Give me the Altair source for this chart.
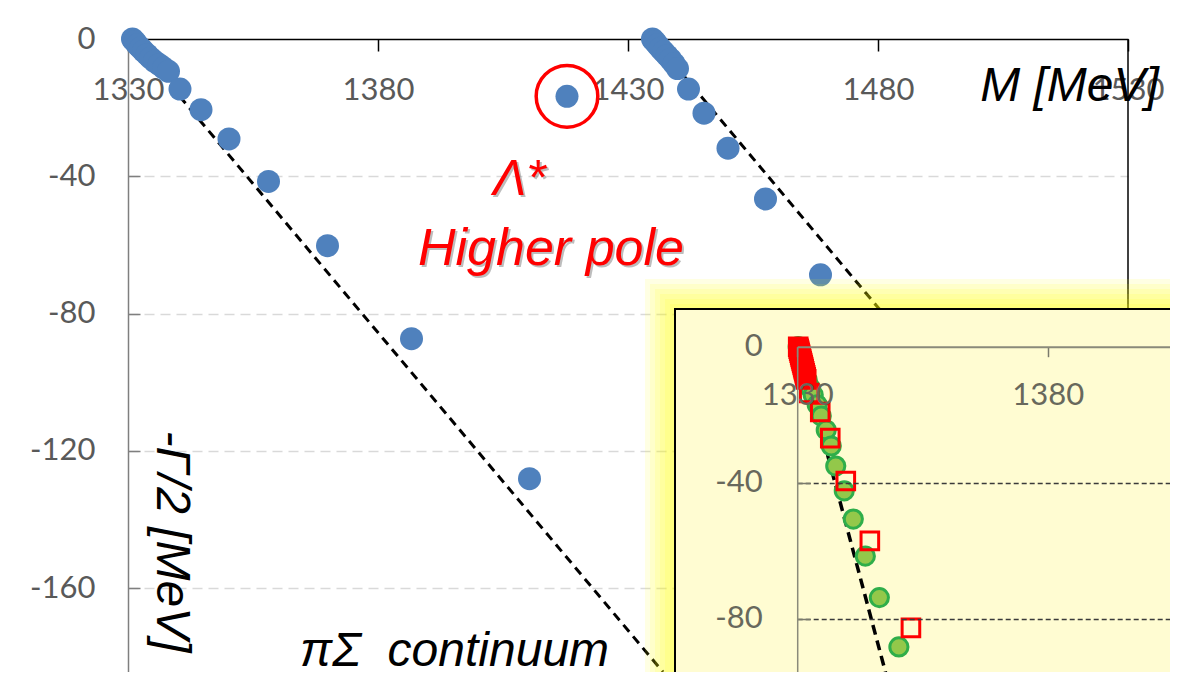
import altair as alt
import pandas as pd

# ---------------- data ----------------
# main panel: pole trajectories, M [MeV] vs -Gamma/2 [MeV]
lower_m = [1330.9, 1331.4, 1331.9, 1332.5, 1333.1, 1333.8, 1334.5, 1335.3, 1336.2,
           1337.1, 1338.1, 1340.4, 1344.6, 1350.2, 1358.1, 1369.9, 1386.7, 1410.3]
lower_g = [0.0, -0.8, -1.7, -2.6, -3.5, -4.5, -5.5, -6.5, -7.4,
           -8.4, -9.4, -14.6, -20.6, -29.1, -41.5, -60.2, -87.3, -128.1]
upper_m = [1434.9, 1435.4, 1435.9, 1436.5, 1437.1, 1437.8, 1438.5, 1439.2, 1439.9,
           1442.1, 1445.2, 1450.0, 1457.5, 1468.5]
upper_g = [0.0, -0.8, -1.7, -2.7, -3.7, -4.8, -5.9, -7.2, -8.6,
           -14.6, -21.6, -31.8, -46.6, -68.7]
lam_m = [1417.8]
lam_g = [-16.7]
cont1_m = [1330.7, 1437.0]
cont1_g = [0.0, -184.4]
cont2_m = [1435.0, 1490.0]
cont2_g = [0.0, -95.6]

# inset panel
inset_circ_m = [1330.2, 1330.4, 1330.6, 1330.8, 1331.2, 1331.6, 1332.0, 1332.6, 1333.2,
                1334.0, 1334.8, 1335.8, 1336.8, 1337.7, 1339.4, 1341.2, 1343.6, 1346.4, 1350.3]
inset_circ_g = [0.0, -1.6, -3.0, -4.5, -6.3, -8.0, -9.8, -12.1, -14.2,
                -17.1, -20.4, -24.5, -29.2, -35.1, -42.4, -50.7, -61.6, -73.8, -88.3]
inset_sq_m = [1330.2, 1330.3, 1330.4, 1330.5, 1330.6, 1330.7, 1330.8, 1330.9, 1331.0,
              1331.1, 1331.2, 1331.3, 1331.4, 1331.5, 1331.6, 1331.7, 1331.8, 1332.4,
              1334.6, 1336.6, 1339.7, 1344.5, 1352.7]
inset_sq_g = [0.0, -0.6, -1.2, -1.8, -2.4, -3.0, -3.6, -4.2, -4.8,
              -5.4, -6.0, -6.6, -7.2, -7.8, -8.4, -9.0, -9.6, -13.6,
              -19.2, -26.9, -39.5, -57.1, -82.7]
inset_line_m = [1330.3, 1350.2]
inset_line_g = [0.0, -110.0]

x_ticks = [1330, 1380, 1430, 1480, 1530]
y_ticks = [0, -40, -80, -120, -160]
inset_x_ticks = [1330, 1380]
inset_y_ticks = [0, -40, -80]

# ---------------- helpers ----------------
def df(m, g):
    return pd.DataFrame({"M": m, "G": g})

one = pd.DataFrame({"a": [0]})
LABEL_FONT = "Lato"
TEXT_FONT = "Liberation Sans"
W, H = 1000, 633
PLAIN = "'' + datum.value"   # plain hyphen-minus in tick labels

hide_zero = {"condition": {"test": "datum.value === 0", "value": 0}, "value": 1}

main_x_axis = alt.Axis(
    orient="top", values=x_ticks, labelExpr=PLAIN,
    title="M [MeV]", titleX=941, titleY=61, titleAlign="center",
    titleBaseline="alphabetic", titleAngle=0, titleFont=TEXT_FONT, titleFontSize=48,
    titleFontStyle="italic", titleFontWeight="normal", titleColor="black",
    labelFont=LABEL_FONT, labelFontSize=31, labelColor="#595959",
    labelFlush=False, labelOverlap=False, labelPadding=-48, labelBaseline="alphabetic",
    tickSize={"expr": "-12"}, tickColor="black", tickWidth=1.5,
    domainColor="black", domainWidth=1.5, grid=False,
)
main_y_axis = alt.Axis(
    orient="left", values=y_ticks, labelExpr=PLAIN,
    title="-Γ/2 [MeV]", titleX=42, titleY=502, titleAngle=90, titleAlign="center",
    titleBaseline="middle", titleFont=TEXT_FONT, titleFontSize=48,
    titleFontStyle="italic", titleFontWeight="normal", titleColor="black",
    labelFont=LABEL_FONT, labelFontSize=31, labelColor="#595959",
    labelOverlap=False, labelPadding=45,
    tickSize={"expr": "-12"}, tickColor="#7f7f7f", tickWidth=1.5, tickOpacity=hide_zero,
    domainColor="#7f7f7f", domainWidth=1.5,
    grid=True, gridColor="#d9d9d9", gridDash=[10, 6], gridWidth=1.5, gridOpacity=hide_zero,
)


def mx(axis=None):
    return alt.X("M:Q", scale=alt.Scale(domain=[1330, 1530], nice=False, zero=False),
                 axis=axis)


def my(axis=None):
    return alt.Y("G:Q", scale=alt.Scale(domain=[-184.4, 0], nice=False, zero=False),
                 axis=axis)


line1 = alt.Chart(df(cont1_m, cont1_g)).mark_line(
    color="black", strokeDash=[9, 6], strokeWidth=3
).encode(x=mx(main_x_axis), y=my(main_y_axis))
line2 = alt.Chart(df(cont2_m, cont2_g)).mark_line(
    color="black", strokeDash=[9, 6], strokeWidth=3
).encode(x=mx(), y=my())
pts_low = alt.Chart(df(lower_m, lower_g)).mark_circle(
    size=529, color="#4F81BD", opacity=1).encode(x=mx(), y=my())
pts_up = alt.Chart(df(upper_m, upper_g)).mark_circle(
    size=529, color="#4F81BD", opacity=1).encode(x=mx(), y=my())
pts_lam = alt.Chart(df(lam_m, lam_g)).mark_circle(
    size=529, color="#4F81BD", opacity=1).encode(x=mx(), y=my())
ring_lam = alt.Chart(df(lam_m, lam_g)).mark_point(
    shape="circle", size=3800, filled=False, color="#FF0000", strokeWidth=3.5, opacity=1
).encode(x=mx(), y=my())

right_border = alt.Chart(one).mark_rule(color="black", strokeWidth=1.5).encode(
    x=alt.value(W), y=alt.value(0), y2=alt.value(300))

# ---------------- inset decoration ----------------
FX, FY = 547, 270
glows = []
for k in range(6, 0, -1):
    glows.append(alt.Chart(one).mark_rect(color="#FFFF00", opacity=0.11).encode(
        x=alt.value(FX - 5 * k), x2=alt.value(1100),
        y=alt.value(FY - 5 * k), y2=alt.value(720)))
frame = alt.Chart(one).mark_rect(fill="#FFFCD2", stroke="black", strokeWidth=2).encode(
    x=alt.value(FX), x2=alt.value(1100), y=alt.value(FY), y2=alt.value(720))

# ---------------- inset plot ----------------
inset_x_axis = alt.Axis(
    orient="top", offset=-307.7, values=inset_x_ticks, labelExpr=PLAIN, title=None,
    labelFont=LABEL_FONT, labelFontSize=31, labelColor="#68685c",
    labelFlush=False, labelOverlap=False, labelPadding=-48, labelBaseline="alphabetic",
    tickSize={"expr": "-10"}, tickColor="#7a7a6c", tickWidth=1.5,
    domainColor="#8a8a7a", domainWidth=2, grid=False, zindex=1,
)
inset_y_axis = alt.Axis(
    orient="left", offset=-669.2, values=inset_y_ticks, labelExpr=PLAIN, title=None,
    labelFont=LABEL_FONT, labelFontSize=31, labelColor="#68685c",
    labelOverlap=False, labelPadding=48,
    tickSize={"expr": "-13"}, tickColor="#7a7a6c", tickWidth=1.5, tickOpacity=hide_zero,
    domainColor="#8a8a7a", domainWidth=1.5,
    grid=True, gridColor="#3a3a3a", gridDash=[5, 3], gridWidth=1.3, gridOpacity=hide_zero,
    zindex=1,
)


def ix(axis=None):
    return alt.X("M:Q", scale=alt.Scale(domain=[1330, 1430], range=[669.2, 1170.2],
                                        nice=False, zero=False), axis=axis)


def iy(axis=None):
    return alt.Y("G:Q", scale=alt.Scale(domain=[-110, 0], range=[681.7, 307.7],
                                        nice=False, zero=False), axis=axis)


iline = alt.Chart(df(inset_line_m, inset_line_g)).mark_line(
    color="black", strokeDash=[10, 6], strokeWidth=3.5
).encode(x=ix(inset_x_axis), y=iy(inset_y_axis))
icirc = alt.Chart(df(inset_circ_m, inset_circ_g)).mark_point(
    shape="circle", size=330, filled=True, fill="#93C84A", stroke="#2FAE4A",
    strokeWidth=3, opacity=1
).encode(x=ix(), y=iy())
isq = alt.Chart(df(inset_sq_m, inset_sq_g)).mark_point(
    shape="square", size=310, filled=False, color="#FF0000", strokeWidth=3, opacity=1
).encode(x=ix(), y=iy())

# ---------------- annotations ----------------
def label(txt, x, y, size, color, shadow=False):
    layers = []
    if shadow:
        layers.append(alt.Chart(one).mark_text(
            text=txt, align="left", baseline="alphabetic", font=TEXT_FONT,
            fontSize=size, fontStyle="italic", color="#888888", opacity=0.55
        ).encode(x=alt.value(x + 2), y=alt.value(y + 2)))
    layers.append(alt.Chart(one).mark_text(
        text=txt, align="left", baseline="alphabetic", font=TEXT_FONT,
        fontSize=size, fontStyle="italic", color=color
    ).encode(x=alt.value(x), y=alt.value(y)))
    return layers

texts = (label("Λ*", 365, 156, 50, "#FF0000", shadow=True)
         + label("Higher pole", 290, 226, 52, "#FF0000", shadow=True)
         + label("πΣ\u00a0 continuum", 172, 627, 48, "black"))

chart = alt.layer(
    line1, line2, pts_low, pts_up, pts_lam, ring_lam, right_border,
    *glows, frame, iline, icirc, isq, *texts
).resolve_scale(x="independent", y="independent").properties(
    width=W, height=H,
    autosize=alt.AutoSizeParams(type="none"),
    padding={"left": 120, "top": 31, "right": 42, "bottom": 0},
    background="white",
).configure_view(stroke=None)

chart.save("out.html", embed_options={"renderer": "svg", "actions": False})
